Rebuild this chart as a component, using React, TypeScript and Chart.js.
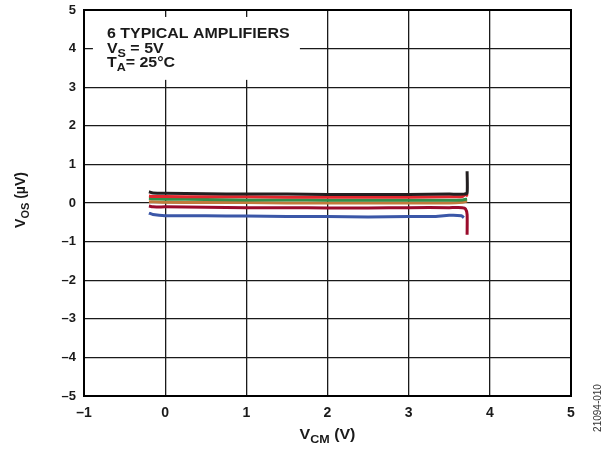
import React, { useEffect, useRef } from "react";
import { Chart, registerables } from "chart.js";

Chart.register(...registerables);

// Axis ranges / ticks
const xMin = -1;
const xMax = 5;
const yMin = -5;
const yMax = 5;

// Series data (VCM in V, VOS in µV)
const blackX = [-0.2, -0.15, 0, 0.5, 1, 1.5, 2, 2.5, 3, 3.5, 3.68, 3.72, 3.72];
const blackY = [0.29, 0.26, 0.25, 0.24, 0.23, 0.23, 0.22, 0.22, 0.22, 0.23, 0.23, 0.26, 0.82];

const redX = [-0.2, -0.15, 0, 0.5, 1, 1.5, 2, 2.5, 3, 3.5, 3.66, 3.7, 3.73];
const redY = [0.18, 0.17, 0.17, 0.16, 0.16, 0.15, 0.15, 0.15, 0.15, 0.16, 0.17, 0.22, 0.18];

const greenX = [-0.2, -0.15, 0, 0.5, 1, 1.5, 2, 2.5, 3, 3.5, 3.66, 3.72];
const greenY = [0.12, 0.11, 0.1, 0.09, 0.08, 0.08, 0.07, 0.07, 0.07, 0.07, 0.08, 0.1];

const orangeX = [-0.2, -0.15, 0, 0.5, 1, 1.5, 2, 2.5, 3, 3.5, 3.66, 3.72];
const orangeY = [0.03, 0.03, 0.02, 0.01, 0.01, 0.0, 0.0, 0.0, 0.0, 0.0, 0.02, 0.05];

const maroonX = [-0.2, -0.15, 0, 0.5, 1, 1.5, 2, 2.5, 3, 3.5, 3.66, 3.7, 3.72, 3.72];
const maroonY = [-0.08, -0.1, -0.1, -0.11, -0.12, -0.12, -0.13, -0.13, -0.12, -0.12, -0.12, -0.15, -0.3, -0.82];

const blueX = [-0.2, -0.15, 0, 0.5, 1, 1.5, 2, 2.5, 3, 3.3, 3.5, 3.65, 3.68];
const blueY = [-0.26, -0.3, -0.33, -0.33, -0.34, -0.35, -0.35, -0.36, -0.35, -0.35, -0.32, -0.33, -0.38];

const seriesColors = ["#231f20", "#e2262d", "#2f8f48", "#c17a3c", "#9a0b2c", "#3b57a8"];

// Annotation text
const noteLine1 = [{ t: "6 TYPICAL AMPLIFIERS", sub: false }];
const noteLine2 = [
  { t: "V", sub: false },
  { t: "S", sub: true },
  { t: " = 5V", sub: false },
];
const noteLine3 = [
  { t: "T", sub: false },
  { t: "A", sub: true },
  { t: "= 25°C", sub: false },
];
const yTitle = [
  { t: "V", sub: false },
  { t: "OS", sub: true },
  { t: " (µV)", sub: false },
];
const xTitle = [
  { t: "V", sub: false },
  { t: "CM", sub: true },
  { t: " (V)", sub: false },
];
const figureCode = "21094-010";

const FONT = "Arial, 'Liberation Sans', sans-serif";
const MAIN = `bold 14px ${FONT}`;
const SUB = `bold 11px ${FONT}`;
const STRETCH = 1.14;

function zip(xs: number[], ys: number[]) {
  return xs.map((x, i) => ({ x, y: ys[i] }));
}

function measureParts(ctx: CanvasRenderingContext2D, parts: { t: string; sub: boolean }[]) {
  let w = 0;
  for (const p of parts) {
    ctx.font = p.sub ? SUB : MAIN;
    w += ctx.measureText(p.t).width;
  }
  return w;
}

function drawParts(
  ctx: CanvasRenderingContext2D,
  parts: { t: string; sub: boolean }[],
  x: number,
  y: number,
  sx = 1
) {
  ctx.save();
  ctx.translate(x, y);
  ctx.scale(sx, 1);
  ctx.textAlign = "left";
  ctx.textBaseline = "alphabetic";
  let cx = 0;
  for (const p of parts) {
    ctx.font = p.sub ? SUB : MAIN;
    ctx.fillText(p.t, cx, p.sub ? 4 : 0);
    cx += ctx.measureText(p.t).width;
  }
  ctx.restore();
}

const decorPlugin = {
  id: "decor",
  beforeDatasetsDraw(chart: any) {
    const ctx: CanvasRenderingContext2D = chart.ctx;
    const xs = chart.scales.x;
    const ys = chart.scales.y;
    const left = xs.getPixelForValue(-0.89);
    const right = xs.getPixelForValue(1.66);
    const top = ys.getPixelForValue(4.82);
    const bottom = ys.getPixelForValue(3.19);
    ctx.save();
    ctx.fillStyle = "#ffffff";
    ctx.fillRect(left, top, right - left, bottom - top);
    ctx.fillStyle = "#1a1a1a";
    const tx = left + 14;
    drawParts(ctx, noteLine1, tx, top + 21, STRETCH);
    drawParts(ctx, noteLine2, tx, top + 36, STRETCH);
    drawParts(ctx, noteLine3, tx, top + 50, STRETCH);
    ctx.restore();
  },
  afterDraw(chart: any) {
    const ctx: CanvasRenderingContext2D = chart.ctx;
    const a = chart.chartArea;
    ctx.save();
    ctx.strokeStyle = "#000";
    ctx.lineWidth = 2;
    ctx.strokeRect(a.left, a.top, a.right - a.left, a.bottom - a.top);

    ctx.fillStyle = "#1a1a1a";
    // x title
    const wx = measureParts(ctx, xTitle) * STRETCH;
    drawParts(ctx, xTitle, (a.left + a.right) / 2 - wx / 2, 439, STRETCH);
    // y title
    const wy = measureParts(ctx, yTitle);
    ctx.save();
    ctx.translate(25, (a.top + a.bottom) / 2 - 3);
    ctx.rotate(-Math.PI / 2);
    drawParts(ctx, yTitle, -wy / 2, 0);
    ctx.restore();
    // figure code
    ctx.save();
    ctx.translate(601, 408);
    ctx.rotate(-Math.PI / 2);
    ctx.font = `10px ${FONT}`;
    ctx.fillStyle = "#333";
    ctx.textAlign = "center";
    ctx.textBaseline = "alphabetic";
    ctx.fillText(figureCode, 0, 0);
    ctx.restore();
    ctx.restore();
  },
};

export default function App() {
  const ref = useRef<HTMLCanvasElement | null>(null);

  useEffect(() => {
    document.body.style.margin = "0";
    const canvas = ref.current;
    if (!canvas) return;
    const series = [
      zip(blackX, blackY),
      zip(redX, redY),
      zip(greenX, greenY),
      zip(orangeX, orangeY),
      zip(maroonX, maroonY),
      zip(blueX, blueY),
    ];
    const fmt = (v: any) => String(v).replace("-", "\u2013");
    const chart = new Chart(canvas, {
      type: "line",
      data: {
        datasets: series.map((d, i) => ({
          data: d,
          borderColor: seriesColors[i],
          backgroundColor: seriesColors[i],
          borderWidth: 3,
          pointRadius: 0,
          tension: 0.2,
          fill: false,
        })),
      },
      options: {
        responsive: false,
        animation: false,
        devicePixelRatio: 1,
        layout: { padding: { left: 0, top: 10, right: 34, bottom: 0 } },
        plugins: {
          legend: { display: false },
          tooltip: { enabled: false },
          title: { display: false },
        },
        scales: {
          x: {
            type: "linear",
            min: xMin,
            max: xMax,
            afterFit: (s: any) => {
              s.height = 55;
              s.paddingLeft = 0;
              s.paddingRight = 0;
            },
            ticks: {
              stepSize: 1,
              padding: 9,
              color: "#1a1a1a",
              font: { family: FONT, size: 14, weight: "bold" },
              callback: fmt,
            },
            grid: { color: "#1a1a1a", lineWidth: 1.3, drawTicks: false },
            border: { display: false },
          },
          y: {
            type: "linear",
            min: yMin,
            max: yMax,
            afterFit: (s: any) => {
              s.width = 84;
              s.paddingTop = 0;
              s.paddingBottom = 0;
            },
            ticks: {
              stepSize: 1,
              padding: 8,
              color: "#1a1a1a",
              font: { family: FONT, size: 13, weight: "bold" },
              callback: fmt,
            },
            grid: { color: "#1a1a1a", lineWidth: 1.3, drawTicks: false },
            border: { display: false },
          },
        },
      } as any,
      plugins: [decorPlugin],
    });
    return () => chart.destroy();
  }, []);

  return (
    <div style={{ position: "fixed", left: 0, top: 0, width: 605, height: 451, background: "#fff" }}>
      <canvas ref={ref} width={605} height={451} style={{ width: 605, height: 451 }} />
    </div>
  );
}
